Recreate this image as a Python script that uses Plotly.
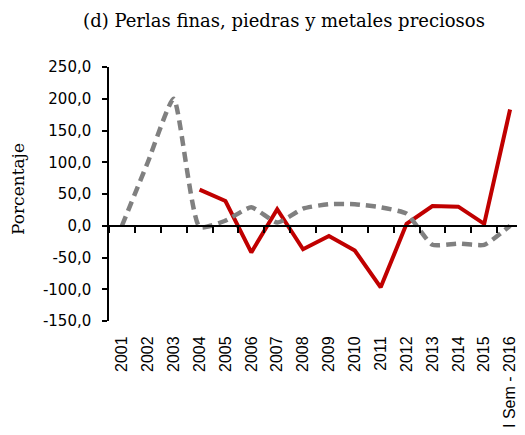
import plotly.graph_objects as go

categories = ["2001", "2002", "2003", "2004", "2005", "2006", "2007", "2008",
              "2009", "2010", "2011", "2012", "2013", "2014", "2015", "I Sem - 2016"]
red_values = [None, None, None, 57, 39, -42, 26, -37, -16, -39, -97, 3, 31, 30, 3, 183]
gray_values = [0, 100, 200, -2, 8, 29, 5, 27, 34, 34, 29, 19, -30, -28, -30, 0]
y_ticks = [-150, -100, -50, 0, 50, 100, 150, 200, 250]
y_tick_labels = [f"{v:.1f}".replace(".", ",") for v in y_ticks]

SERIF = "DejaVu Serif"
SANS = "Liberation Sans"
TICKSANS = "DejaVu Sans"

# page body has an 8px margin: figure is sized to fill the rest of the window
OFF = 8
W, H = 525 - OFF, 435 - OFF
L, R, T, B = 109 - OFF, 2, 67 - OFF, 114

fig = go.Figure()
fig.add_trace(go.Scatter(
    x=categories, y=gray_values, mode="lines", xaxis="x2", yaxis="y",
    line=dict(color="#808080", width=4.5, dash="10px,6px", shape="spline", smoothing=0.5),
    showlegend=False, hoverinfo="skip"))
fig.add_trace(go.Scatter(
    x=categories, y=red_values, mode="lines",
    line=dict(color="#C00000", width=4),
    showlegend=False, connectgaps=False))

pw = W - L - R
ph = H - T - B

fig.update_layout(
    width=W, height=H,
    margin=dict(l=L, r=R, t=T, b=B),
    paper_bgcolor="white", plot_bgcolor="white",
    font=dict(family=SANS, size=15, color="black"),
    title=dict(text="(d) Perlas finas, piedras y metales preciosos",
               x=(284 - OFF) / W, xref="container", xanchor="center",
               y=1 - (21 - OFF) / H, yref="container", yanchor="middle",
               font=dict(family=SERIF, size=18, color="black")),
    xaxis=dict(type="category", categoryorder="array", categoryarray=categories,
               range=[-0.5, 15.5], showline=False, showgrid=False, zeroline=False,
               automargin=False,
               ticks="outside", ticklen=8, tickcolor="rgba(0,0,0,0)",
               tickangle=-90, tickfont=dict(family=SANS, size=16)),
    xaxis2=dict(type="category", categoryorder="array", categoryarray=categories,
                range=[-0.5, 15.5], overlaying="x", anchor="free", position=0.375,
                showline=True, linecolor="black", linewidth=1.5, automargin=False,
                ticks="outside", tickson="boundaries", ticklen=6, tickwidth=1.5,
                tickcolor="black", showticklabels=False, showgrid=False, zeroline=False),
    yaxis=dict(range=[-150, 250], tickvals=y_ticks, ticktext=y_tick_labels,
               showline=True, linecolor="black", linewidth=1.5, automargin=False,
               ticks="outside", ticklen=5, tickwidth=1.5, tickcolor="black",
               ticklabelstandoff=8,
               showgrid=False, zeroline=False,
               tickfont=dict(family=TICKSANS, size=15)),
    annotations=[dict(text="Porcentaje",
                      x=(18 - 109) / pw, y=(435 - 114 - 189) / ph,
                      xref="paper", yref="paper", xanchor="center", yanchor="middle",
                      showarrow=False, textangle=-90,
                      font=dict(family=SERIF, size=17, color="black"))],
)

fig.write_html("out.html")
